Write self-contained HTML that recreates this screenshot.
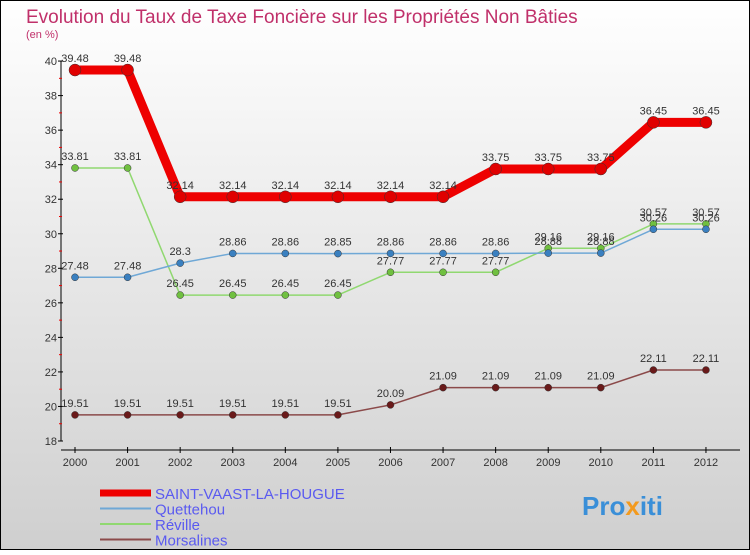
<!DOCTYPE html>
<html><head><meta charset="utf-8"><style>
body{margin:0;width:750px;height:550px;overflow:hidden;font-family:"Liberation Sans",sans-serif}
</style></head><body>
<svg width="750" height="550" xmlns="http://www.w3.org/2000/svg">
<defs><linearGradient id="bg" x1="0" y1="0" x2="0" y2="1"><stop offset="0" stop-color="#ffffff"/><stop offset="1" stop-color="#cfcfcf"/></linearGradient></defs>
<rect x="0.5" y="0.5" width="749" height="549" fill="url(#bg)" stroke="#000"/>
<text x="26" y="23" font-size="19" fill="#c0306a">Evolution du Taux de Taxe Foncière sur les Propriétés Non Bâties</text>
<text x="26" y="38" font-size="11" fill="#c0306a">(en %)</text>
<g id="axes"></g><g id="series"></g><g id="legend"></g>
<text x="582" y="515" font-size="26" font-weight="bold" fill="#3a8fd8">Pro<tspan fill="#f39a1e">x</tspan>iti</text>
</svg>
<script>
const years=["2000","2001","2002","2003","2004","2005","2006","2007","2008","2009","2010","2011","2012"];
const yTicks=[18,20,22,24,26,28,30,32,34,36,38,40];
const saint=[39.48,39.48,32.14,32.14,32.14,32.14,32.14,32.14,33.75,33.75,33.75,36.45,36.45];
const quet=[27.48,27.48,28.3,28.86,28.86,28.85,28.86,28.86,28.86,28.88,28.88,30.26,30.26];
const revi=[33.81,33.81,26.45,26.45,26.45,26.45,27.77,27.77,27.77,29.16,29.16,30.57,30.57];
const mors=[19.51,19.51,19.51,19.51,19.51,19.51,20.09,21.09,21.09,21.09,21.09,22.11,22.11];
const NS="http://www.w3.org/2000/svg";
const X=i=>75+i*52.58, Y=v=>441-(v-18)*17.27;
function mk(t,a,p,txt){const e=document.createElementNS(NS,t);for(const k in a)e.setAttribute(k,a[k]);if(txt!==undefined)e.textContent=txt;p.appendChild(e);return e;}
const ax=document.getElementById('axes');
let e=mk('line',{x1:61,y1:Y(40),x2:61,y2:Y(18),stroke:'#000'},ax);

e=mk('line',{x1:61,y1:450,x2:740,y2:450,stroke:'#000'},ax);

yTicks.forEach(v=>{mk('line',{x1:58,y1:Y(v),x2:63,y2:Y(v),stroke:'#000'},ax);
 if(v<40)mk('line',{x1:59,y1:Y(v+1),x2:62,y2:Y(v+1),stroke:'#e00'},ax);
 e=mk('text',{x:57,y:Y(v)+4,'font-size':11,fill:'#333','text-anchor':'end'},ax,String(v));
 });
years.forEach((y,i)=>{mk('line',{x1:X(i),y1:447,x2:X(i),y2:453,stroke:'#000'},ax);
 e=mk('text',{x:X(i),y:466,'font-size':11,fill:'#333','text-anchor':'middle'},ax,y);
 });
const sg=document.getElementById('series');
function draw(vals,col,w,r,dot,name){
 const g=mk('g',{},sg);
 mk('polyline',{points:vals.map((v,i)=>X(i)+','+Y(v)).join(' '),fill:'none',stroke:col,'stroke-width':w,'stroke-linejoin':'round'},g);
 vals.forEach((v,i)=>{const c=mk('circle',{cx:X(i),cy:Y(v),r:r,fill:dot,stroke:'#333','stroke-width':0.5},g);
  
  const t=mk('text',{x:X(i),y:Y(v)-8,'font-size':11,fill:'#333','text-anchor':'middle'},g,String(v));
  });
}
draw(mors,'#8b4a4a',1.5,3.5,'#6a1a1a','morsalines');
draw(revi,'#90d870',1.5,3.5,'#70c040','reville');
draw(quet,'#6fa8d6',1.5,3.5,'#3a80c0','quettehou');
draw(saint,'#ee0000',9,6,'#e00000','saint-vaast');
const lg=document.getElementById('legend');
[['SAINT-VAAST-LA-HOUGUE','#ee0000',7],['Quettehou','#6fa8d6',2],['Réville','#90d870',2],['Morsalines','#8b4a4a',2]].forEach((d,i)=>{
 const yy=493+i*15.5;
 const g=mk('g',{},lg);
 mk('line',{x1:100,y1:yy,x2:151,y2:yy,stroke:d[1],'stroke-width':d[2]},g);
 mk('text',{x:155,y:yy+6,'font-size':15,fill:'#5a5af0'},g,d[0]);
});
</script>
</body></html>
